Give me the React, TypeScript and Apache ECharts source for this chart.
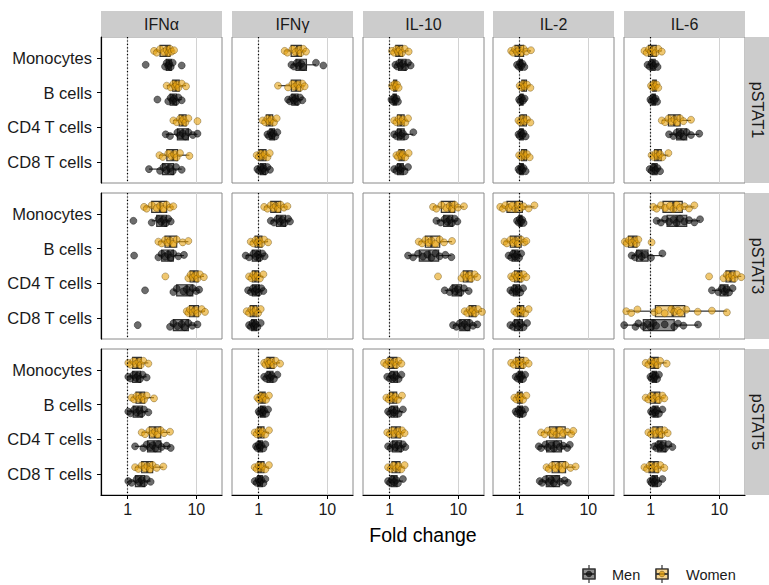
import React, { useEffect, useRef } from "react";
import * as echarts from "echarts";

// ---------- categories & labels ----------
const cytokines = ["IFNα", "IFNγ", "IL-10", "IL-2", "IL-6"];
const stats = ["pSTAT1", "pSTAT3", "pSTAT5"];
const cells = ["Monocytes", "B cells", "CD4 T cells", "CD8 T cells"];
const xTicks = [1, 10];
const sexes = ["Men", "Women"];

// ---------- fold-change values (per cell type: Monocytes, B, CD4, CD8) ----------
// pSTAT1
const IFNa_pSTAT1_women = [
  [2.42, 2.65, 2.96, 3.39, 3.7, 3.9, 4.14, 4.37, 4.74],
  [3.7, 4.24, 4.63, 4.9, 5.18, 5.48, 6.13, 7.08],
  [4.63, 5.18, 5.79, 6.13, 6.48, 6.93, 7.66, 10.4],
  [2.9, 3.24, 3.9, 4.37, 4.74, 5.18, 5.79, 7.93],
];
const IFNa_pSTAT1_men = [
  [1.83, 3.5, 3.7, 3.9, 4.05, 4.24, 4.53, 6.13],
  [2.71, 3.9, 4.24, 4.53, 4.74, 5.07, 5.48, 6.13],
  [3.58, 4.14, 5.3, 5.79, 6.34, 6.93, 7.66, 8.9, 10.4],
  [2.04, 2.96, 3.31, 3.7, 4.14, 4.53, 5.07, 6.13],
];
const IFNg_pSTAT1_women = [
  [2.39, 2.62, 3.1, 3.45, 3.8, 4.1, 4.46, 4.9],
  [1.91, 2.68, 3.1, 3.35, 3.66, 4.0, 4.33, 4.68],
  [1.14, 1.24, 1.34, 1.43, 1.53, 1.67, 1.83],
  [0.935, 1.0, 1.07, 1.14, 1.22, 1.34, 1.45],
];
const IFNg_pSTAT1_men = [
  [3.0, 3.27, 3.58, 3.87, 4.18, 4.46, 6.84, 8.76],
  [2.68, 2.86, 3.1, 3.27, 3.45, 3.66, 4.0, 4.33],
  [1.34, 1.41, 1.5, 1.56, 1.64, 1.75, 1.87],
  [0.956, 1.01, 1.07, 1.12, 1.17, 1.24, 1.34, 1.46],
];
const IL10_pSTAT1_women = [
  [1.08, 1.16, 1.25, 1.32, 1.41, 1.51, 1.65, 1.89],
  [1.08, 1.13, 1.18, 1.22, 1.28, 1.35],
  [1.16, 1.25, 1.35, 1.45, 1.56, 1.69, 1.85],
  [1.25, 1.32, 1.41, 1.48, 1.56, 1.69, 1.89],
];
const IL10_pSTAT1_men = [
  [1.21, 1.29, 1.37, 1.45, 1.56, 1.69, 1.85, 2.02],
  [1.06, 1.11, 1.16, 1.21, 1.26, 1.32],
  [1.16, 1.25, 1.35, 1.45, 1.56, 1.69, 2.21],
  [1.16, 1.25, 1.35, 1.43, 1.51, 1.65, 1.85],
];
const IL2_pSTAT1_women = [
  [0.75, 0.8, 0.855, 0.914, 0.98, 1.05, 1.14, 1.25, 1.46],
  [1.0, 1.06, 1.12, 1.18, 1.28, 1.43],
  [0.96, 1.02, 1.09, 1.17, 1.28, 1.43],
  [0.98, 1.05, 1.12, 1.2, 1.28, 1.4],
];
const IL2_pSTAT1_men = [
  [0.914, 0.967, 1.01, 1.06, 1.1, 1.17],
  [0.98, 1.02, 1.07, 1.12, 1.18],
  [0.96, 1.0, 1.05, 1.09, 1.14, 1.22],
  [0.96, 1.0, 1.05, 1.09, 1.14, 1.22],
];
const IL6_pSTAT1_women = [
  [0.81, 0.875, 0.946, 1.01, 1.08, 1.18, 1.29, 1.45],
  [1.01, 1.06, 1.1, 1.16, 1.22, 1.29],
  [1.45, 1.62, 1.81, 2.02, 2.21, 2.42, 2.68, 3.0, 3.87],
  [1.03, 1.1, 1.18, 1.26, 1.37, 1.48, 1.81],
];
const IL6_pSTAT1_men = [
  [0.9, 0.967, 1.03, 1.1, 1.18, 1.26],
  [0.99, 1.03, 1.08, 1.13, 1.18, 1.24],
  [1.85, 2.14, 2.39, 2.59, 2.77, 3.0, 3.35, 3.87, 5.1],
  [0.967, 1.03, 1.1, 1.18, 1.26, 1.37],
];
// pSTAT3
const IFNa_pSTAT3_women = [
  [1.73, 1.89, 2.24, 2.65, 2.96, 3.31, 3.7, 4.14, 4.63],
  [2.8, 3.13, 3.5, 3.8, 4.14, 4.63, 5.18, 6.34, 7.66],
  [3.54, 7.66, 8.28, 8.9, 9.6, 10.4, 11.3, 12.9],
  [7.26, 7.66, 8.08, 8.9, 9.6, 10.4, 12.0, 13.4],
];
const IFNa_pSTAT3_men = [
  [1.21, 2.24, 2.8, 3.06, 3.31, 3.62, 3.9, 4.24],
  [1.24, 2.8, 3.13, 3.5, 3.9, 4.24, 4.63, 5.48, 6.62],
  [1.79, 4.63, 5.18, 6.48, 7.26, 8.08, 8.9, 10.0, 11.0],
  [1.4, 4.14, 4.63, 5.3, 6.13, 6.8, 7.66, 8.74, 10.4],
];
const IFNg_pSTAT3_women = [
  [1.2, 1.34, 1.5, 1.64, 1.77, 1.91, 2.09, 2.34, 2.62],
  [0.765, 0.836, 0.904, 0.956, 1.02, 1.09, 1.2, 1.37],
  [0.723, 0.782, 0.836, 0.894, 0.956, 1.04, 1.17],
  [0.669, 0.723, 0.782, 0.836, 0.904, 0.978, 1.07],
];
const IFNg_pSTAT3_men = [
  [1.5, 1.67, 1.87, 2.05, 2.21, 2.39, 2.68, 2.86],
  [0.646, 0.723, 0.836, 0.914, 0.978, 1.04, 1.13, 1.22],
  [0.7, 0.77, 0.82, 0.875, 0.935, 1.0, 1.09, 1.17],
  [0.723, 0.77, 0.81, 0.855, 0.904, 0.956, 1.07],
];
const IL10_pSTAT3_women = [
  [4.28, 4.79, 5.66, 6.7, 7.49, 8.1, 8.88, 9.9, 12.1],
  [2.65, 2.96, 3.31, 3.7, 4.05, 4.63, 5.36, 6.2, 8.1],
  [5.06, 11.1, 12.1, 13.1, 14.2, 15.5, 17.3, 18.9],
  [12.4, 13.5, 14.7, 15.5, 16.4, 17.7, 19.4, 22.2],
];
const IL10_pSTAT3_men = [
  [4.79, 5.53, 6.34, 6.93, 7.49, 8.1, 8.88, 9.7],
  [1.85, 2.19, 2.59, 3.06, 3.54, 4.05, 4.63, 5.36, 6.48, 7.93],
  [6.34, 7.49, 8.38, 9.05, 9.9, 10.8, 12.1, 14.2],
  [8.38, 9.37, 10.5, 11.3, 12.4, 13.5, 14.7, 16.4, 18.9],
];
const IL2_pSTAT3_women = [
  [0.52, 0.57, 0.617, 0.69, 0.772, 0.864, 0.935, 1.05, 1.14, 1.35, 1.64],
  [0.6, 0.65, 0.73, 0.8, 0.864, 0.935, 1.05, 1.17, 1.25],
  [0.75, 0.8, 0.855, 0.914, 0.98, 1.05, 1.14, 1.25],
  [0.835, 0.894, 0.96, 1.02, 1.09, 1.2, 1.35],
];
const IL2_pSTAT3_men = [
  [0.914, 0.967, 1.0, 1.05, 1.09, 1.14],
  [0.69, 0.75, 0.8, 0.855, 0.914, 0.98, 1.05],
  [0.73, 0.78, 0.835, 0.894, 0.96, 1.02, 1.12],
  [0.73, 0.8, 0.874, 0.96, 1.05, 1.14, 1.28],
];
const IL6_pSTAT3_women = [
  [1.09, 1.22, 1.41, 1.62, 1.91, 2.14, 2.39, 2.68, 3.1, 3.62, 4.33],
  [0.42, 0.447, 0.483, 0.528, 0.578, 0.62, 0.66, 1.03],
  [7.1, 11.5, 12.9, 13.9, 15.2, 16.6, 18.0, 20.9],
  [0.44, 0.52, 0.64, 1.13, 1.3, 1.6, 2.0, 2.2, 2.5, 2.7, 3.3, 4.85, 7.8, 12.9],
];
const IL6_pSTAT3_men = [
  [1.22, 1.41, 1.62, 1.85, 2.14, 2.39, 2.68, 3.1, 3.62, 4.33, 5.24],
  [0.528, 0.59, 0.66, 0.739, 0.826, 1.01, 1.48],
  [7.8, 9.7, 10.9, 11.9, 12.9, 13.9, 15.6],
  [0.41, 0.6, 0.66, 0.78, 0.9, 1.0, 1.09, 1.2, 1.6, 2.2, 2.5, 3.0, 4.9],
];
// pSTAT5
const IFNa_pSTAT5_women = [
  [1.02, 1.1, 1.21, 1.32, 1.43, 1.55, 1.69, 2.0],
  [1.14, 1.24, 1.35, 1.48, 1.6, 1.73, 1.89, 2.42],
  [1.6, 1.79, 2.07, 2.31, 2.5, 2.71, 3.03, 3.39, 4.14],
  [1.28, 1.43, 1.6, 1.79, 1.93, 2.12, 2.31, 2.65, 3.31],
];
const IFNa_pSTAT5_men = [
  [1.02, 1.1, 1.21, 1.32, 1.41, 1.51, 1.65, 1.89],
  [1.02, 1.1, 1.24, 1.35, 1.48, 1.6, 1.73, 2.0],
  [1.28, 1.69, 1.89, 2.12, 2.31, 2.53, 2.8, 3.13, 3.7, 4.24],
  [1.02, 1.14, 1.35, 1.48, 1.6, 1.73, 1.89, 2.16],
];
const IFNg_pSTAT5_women = [
  [1.2, 1.26, 1.34, 1.41, 1.5, 1.64, 1.77, 2.05],
  [0.956, 1.01, 1.07, 1.13, 1.2, 1.28, 1.41],
  [0.875, 0.935, 1.0, 1.07, 1.14, 1.25, 1.41],
  [0.875, 0.935, 1.0, 1.07, 1.14, 1.25, 1.41],
];
const IFNg_pSTAT5_men = [
  [1.2, 1.28, 1.37, 1.46, 1.56, 1.67, 1.87],
  [1.0, 1.04, 1.09, 1.14, 1.2, 1.28, 1.37],
  [0.914, 0.956, 1.0, 1.04, 1.09, 1.17, 1.25],
  [0.875, 0.935, 1.0, 1.04, 1.09, 1.17, 1.25],
];
const IL10_pSTAT5_women = [
  [0.826, 0.894, 0.967, 1.06, 1.16, 1.25, 1.35, 1.48],
  [0.894, 0.967, 1.03, 1.12, 1.21, 1.32, 1.51],
  [0.92, 1.0, 1.08, 1.18, 1.29, 1.4, 1.51, 1.65],
  [0.946, 1.03, 1.13, 1.24, 1.35, 1.48, 1.65],
];
const IL10_pSTAT5_men = [
  [0.92, 1.0, 1.08, 1.16, 1.25, 1.35, 1.48],
  [0.946, 1.01, 1.08, 1.16, 1.25, 1.35, 1.56],
  [0.946, 1.03, 1.12, 1.21, 1.32, 1.45, 1.56, 1.69],
  [0.946, 1.01, 1.08, 1.16, 1.24, 1.32, 1.56],
];
const IL2_pSTAT5_women = [
  [0.75, 0.82, 0.894, 0.96, 1.02, 1.12, 1.22, 1.35],
  [0.835, 0.894, 0.96, 1.0, 1.05, 1.12, 1.25],
  [2.05, 2.3, 2.57, 2.88, 3.14, 3.44, 3.85, 4.3, 4.93, 5.63, 6.05],
  [2.46, 2.66, 2.97, 3.32, 3.72, 4.16, 4.66, 5.51, 6.54],
];
const IL2_pSTAT5_men = [
  [0.874, 0.935, 0.98, 1.02, 1.07, 1.12, 1.2],
  [0.874, 0.914, 0.967, 1.02, 1.07, 1.12, 1.2],
  [1.9, 2.05, 2.37, 2.57, 2.88, 3.14, 3.44, 3.85, 4.3, 4.93, 5.38],
  [1.96, 2.12, 2.37, 2.66, 2.88, 3.14, 3.44, 3.94, 4.5, 5.04],
];
const IL6_pSTAT5_women = [
  [0.845, 0.924, 1.01, 1.08, 1.16, 1.26, 1.37, 1.71],
  [0.845, 0.924, 1.01, 1.1, 1.21, 1.32, 1.48, 1.58],
  [0.924, 1.01, 1.1, 1.21, 1.32, 1.45, 1.58, 1.77],
  [0.81, 0.884, 0.967, 1.06, 1.16, 1.26, 1.38, 1.58],
];
const IL6_pSTAT5_men = [
  [0.99, 1.03, 1.08, 1.13, 1.18, 1.24, 1.32],
  [1.01, 1.06, 1.1, 1.16, 1.24, 1.32, 1.48],
  [1.13, 1.21, 1.29, 1.38, 1.48, 1.62, 1.81, 2.07],
  [0.99, 1.03, 1.08, 1.13, 1.21, 1.29, 1.48],
];

// lookup table [stat][cytokine] -> { men, women }
const TABLE = [
  [
    { men: IFNa_pSTAT1_men, women: IFNa_pSTAT1_women },
    { men: IFNg_pSTAT1_men, women: IFNg_pSTAT1_women },
    { men: IL10_pSTAT1_men, women: IL10_pSTAT1_women },
    { men: IL2_pSTAT1_men, women: IL2_pSTAT1_women },
    { men: IL6_pSTAT1_men, women: IL6_pSTAT1_women },
  ],
  [
    { men: IFNa_pSTAT3_men, women: IFNa_pSTAT3_women },
    { men: IFNg_pSTAT3_men, women: IFNg_pSTAT3_women },
    { men: IL10_pSTAT3_men, women: IL10_pSTAT3_women },
    { men: IL2_pSTAT3_men, women: IL2_pSTAT3_women },
    { men: IL6_pSTAT3_men, women: IL6_pSTAT3_women },
  ],
  [
    { men: IFNa_pSTAT5_men, women: IFNa_pSTAT5_women },
    { men: IFNg_pSTAT5_men, women: IFNg_pSTAT5_women },
    { men: IL10_pSTAT5_men, women: IL10_pSTAT5_women },
    { men: IL2_pSTAT5_men, women: IL2_pSTAT5_women },
    { men: IL6_pSTAT5_men, women: IL6_pSTAT5_women },
  ],
];

// ---------- layout & style ----------
const FONT = "'Liberation Sans', Arial, Helvetica, sans-serif";
const COL_LEFT = [101, 232, 363, 493, 624];
const ROW_TOP = [37, 193, 349];
const PANEL_W = 121;
const PANEL_H = 146;
const X_MIN = 0.408;
const X_MAX = 23.7;
const DODGE = 0.2;
const BOX_HALF = 0.16;
const JITTER = [0, 0.05, -0.05, 0.03, -0.03, 0.06, -0.06, 0.02, -0.02, 0.045, -0.045, 0.015, -0.015, 0.035];
const COLORS = {
  Men: { point: "rgba(20,20,20,0.78)", pointBorder: "rgba(0,0,0,0.85)", box: "rgba(50,50,50,0.55)" },
  Women: { point: "rgba(230,162,15,0.75)", pointBorder: "rgba(80,55,0,0.75)", box: "rgba(235,170,35,0.5)" },
};
const BOX_STROKE = "#333333";

function quantile(sorted: number[], p: number) {
  const h = (sorted.length - 1) * p;
  const lo = Math.floor(h);
  const hi = Math.ceil(h);
  return sorted[lo] + (h - lo) * (sorted[hi] - sorted[lo]);
}

// boxplot statistics computed on the log10 scale, as the axis is log
function boxStats(values: number[]) {
  const l = values.map((v) => Math.log10(v)).sort((a, b) => a - b);
  const q1 = quantile(l, 0.25);
  const med = quantile(l, 0.5);
  const q3 = quantile(l, 0.75);
  const iqr = q3 - q1;
  const inside = l.filter((v) => v >= q1 - 1.5 * iqr && v <= q3 + 1.5 * iqr);
  const lo = Math.min(...inside);
  const hi = Math.max(...inside);
  return [lo, q1, med, q3, hi].map((v) => Math.pow(10, v));
}

function buildOption() {
  const grid: any[] = [];
  const xAxis: any[] = [];
  const yAxis: any[] = [];
  const series: any[] = [];

  stats.forEach((_st, r) => {
    cytokines.forEach((_cy, c) => {
      const gi = r * cytokines.length + c;
      const bottom = r === stats.length - 1;
      const leftCol = c === 0;
      grid.push({
        left: COL_LEFT[c],
        top: ROW_TOP[r],
        width: PANEL_W,
        height: PANEL_H,
        show: true,
        borderColor: "#8a8a8a",
        borderWidth: 1,
        backgroundColor: "#ffffff",
      });
      xAxis.push({
        gridIndex: gi,
        type: "log",
        logBase: 10,
        min: X_MIN,
        max: X_MAX,
        position: "bottom",
        axisLine: { show: bottom, onZero: false, lineStyle: { color: "#000", width: 1.2 } },
        axisTick: { show: bottom, length: 4, customValues: xTicks, lineStyle: { color: "#000", width: 1 } },
        axisLabel: {
          show: bottom,
          customValues: xTicks,
          fontSize: 16,
          color: "#1a1a1a",
          fontFamily: FONT,
          margin: 6,
          formatter: (v: number) => String(Math.round(v)),
        },
        splitLine: { show: true, lineStyle: { color: "#d2d2d2", width: 1 } },
        minorSplitLine: { show: false },
      });
      const catIdx = cells.map((_, i) => i);
      yAxis.push({
        gridIndex: gi,
        type: "value",
        min: -0.6,
        max: 3.6,
        inverse: true,
        axisLine: { show: leftCol, onZero: false, lineStyle: { color: "#000", width: 1.2 } },
        axisTick: { show: leftCol, length: 4, customValues: catIdx, lineStyle: { color: "#000", width: 1 } },
        axisLabel: {
          show: leftCol,
          customValues: catIdx,
          fontSize: 16.5,
          color: "#1a1a1a",
          fontFamily: FONT,
          margin: 9,
          formatter: (v: number) => cells[Math.round(v)] ?? "",
        },
        splitLine: { show: false },
      });

      const panel = TABLE[r][c];
      const boxRows: number[][] = [];
      const pts: Record<string, number[][]> = { Men: [], Women: [] };
      cells.forEach((_cell, k) => {
        sexes.forEach((sx, s) => {
          const vals = sx === "Men" ? panel.men[k] : panel.women[k];
          const yPos = k + (sx === "Men" ? DODGE : -DODGE);
          boxRows.push([...boxStats(vals), yPos, s]);
          vals.forEach((v, j) => pts[sx].push([v, yPos + JITTER[j % JITTER.length]]));
        });
      });

      series.push({
        type: "custom",
        xAxisIndex: gi,
        yAxisIndex: gi,
        clip: true,
        z: 2,
        silent: true,
        encode: { x: [0, 1, 2, 3, 4], y: 5 },
        data: boxRows,
        renderItem: (_params: any, api: any) => {
          const yv = api.value(5);
          const sx = sexes[api.value(6)] as "Men" | "Women";
          const pLo = api.coord([api.value(0), yv]);
          const pQ1 = api.coord([api.value(1), yv]);
          const pMed = api.coord([api.value(2), yv]);
          const pQ3 = api.coord([api.value(3), yv]);
          const pHi = api.coord([api.value(4), yv]);
          const a = api.coord([api.value(2), yv - BOX_HALF])[1];
          const b = api.coord([api.value(2), yv + BOX_HALF])[1];
          const y0 = Math.min(a, b);
          const h = Math.abs(b - a);
          const line = { stroke: BOX_STROKE, lineWidth: 1.2 };
          return {
            type: "group",
            children: [
              { type: "line", shape: { x1: pLo[0], y1: pLo[1], x2: pQ1[0], y2: pQ1[1] }, style: line },
              { type: "line", shape: { x1: pQ3[0], y1: pQ3[1], x2: pHi[0], y2: pHi[1] }, style: line },
              {
                type: "rect",
                shape: { x: pQ1[0], y: y0, width: Math.max(pQ3[0] - pQ1[0], 0.5), height: h },
                style: { fill: COLORS[sx].box, stroke: BOX_STROKE, lineWidth: 1.2 },
              },
              { type: "line", shape: { x1: pMed[0], y1: y0, x2: pMed[0], y2: y0 + h }, style: { stroke: BOX_STROKE, lineWidth: 2.4 } },
            ],
          };
        },
        markLine: {
          silent: true,
          symbol: ["none", "none"],
          label: { show: false },
          lineStyle: { color: "#000", type: [1.2, 2.2], width: 1.2 },
          data: [{ xAxis: 1 }],
        },
      });

      sexes.forEach((sx) => {
        series.push({
          type: "scatter",
          name: sx,
          xAxisIndex: gi,
          yAxisIndex: gi,
          z: 3,
          clip: true,
          silent: true,
          symbol: "circle",
          symbolSize: 7,
          itemStyle: {
            color: COLORS[sx as "Men" | "Women"].point,
            borderColor: COLORS[sx as "Men" | "Women"].pointBorder,
            borderWidth: 0.6,
          },
          data: pts[sx],
        });
      });
    });
  });

  const graphic: any[] = [];
  cytokines.forEach((cy, c) => {
    graphic.push({
      type: "rect",
      shape: { x: COL_LEFT[c], y: 11, width: PANEL_W, height: 26 },
      style: { fill: "#cccccc" },
    });
    graphic.push({
      type: "text",
      x: COL_LEFT[c] + PANEL_W / 2,
      y: 24,
      style: { text: cy, fill: "#1a1a1a", font: `16px ${FONT}`, align: "center", verticalAlign: "middle" },
    });
  });
  const stripX = COL_LEFT[COL_LEFT.length - 1] + PANEL_W;
  stats.forEach((st, r) => {
    graphic.push({
      type: "rect",
      shape: { x: stripX, y: ROW_TOP[r], width: 24, height: PANEL_H },
      style: { fill: "#cccccc" },
    });
    graphic.push({
      type: "text",
      x: stripX + 12,
      y: ROW_TOP[r] + PANEL_H / 2,
      rotation: -Math.PI / 2,
      style: { text: st, fill: "#1a1a1a", font: `16px ${FONT}`, align: "center", verticalAlign: "middle" },
    });
  });
  graphic.push({
    type: "text",
    x: (COL_LEFT[0] + stripX) / 2,
    y: 535,
    style: { text: "Fold change", fill: "#000", font: `19.5px ${FONT}`, align: "center", verticalAlign: "middle" },
  });
  // legend
  const legendItems = [
    { name: "Men", cx: 589, tx: 612 },
    { name: "Women", cx: 662, tx: 686 },
  ];
  legendItems.forEach((it) => {
    const col = COLORS[it.name as "Men" | "Women"];
    graphic.push({ type: "line", shape: { x1: it.cx, y1: 565, x2: it.cx, y2: 583 }, style: { stroke: BOX_STROKE, lineWidth: 1.2 } });
    graphic.push({
      type: "rect",
      shape: { x: it.cx - 6, y: 569, width: 12, height: 10 },
      style: { fill: "#fff", stroke: BOX_STROKE, lineWidth: 1.2 },
    });
    graphic.push({
      type: "rect",
      shape: { x: it.cx - 6, y: 569, width: 12, height: 10 },
      style: { fill: col.box, stroke: BOX_STROKE, lineWidth: 1.2 },
    });
    graphic.push({ type: "line", shape: { x1: it.cx - 6, y1: 574, x2: it.cx + 6, y2: 574 }, style: { stroke: BOX_STROKE, lineWidth: 1.8 } });
    graphic.push({ type: "circle", shape: { cx: it.cx, cy: 574, r: 2.8 }, style: { fill: col.point, stroke: col.pointBorder, lineWidth: 0.6 } });
    graphic.push({
      type: "text",
      x: it.tx,
      y: 575,
      style: { text: it.name, fill: "#1a1a1a", font: `14.5px ${FONT}`, align: "left", verticalAlign: "middle" },
    });
  });

  return {
    animation: false,
    backgroundColor: "#ffffff",
    textStyle: { fontFamily: FONT },
    grid,
    xAxis,
    yAxis,
    series,
    graphic,
  };
}

export default function App() {
  const ref = useRef<HTMLDivElement>(null);
  useEffect(() => {
    if (!ref.current) return;
    const chart = echarts.init(ref.current, null, { renderer: "svg" });
    chart.setOption(buildOption() as any);
    return () => chart.dispose();
  }, []);
  return (
    <div
      ref={ref}
      style={{ position: "fixed", left: 0, top: 0, width: 769, height: 585, background: "#fff" }}
    />
  );
}
